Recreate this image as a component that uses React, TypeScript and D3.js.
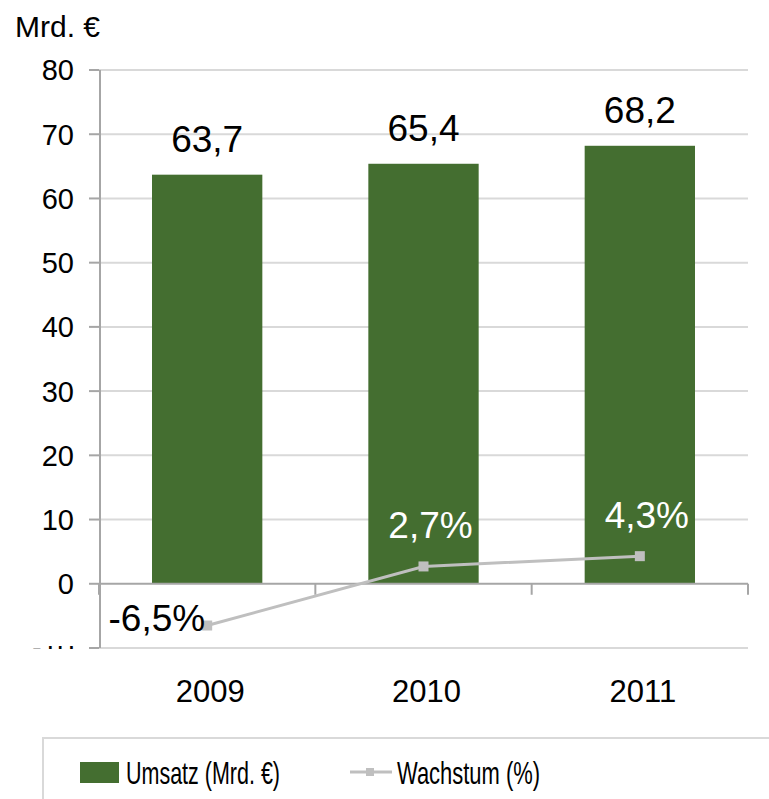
import React from "react";
import * as d3 from "d3";

const years = ["2009", "2010", "2011"];
const umsatz = [63.7, 65.4, 68.2];
const wachstum = [-6.5, 2.7, 4.3];
const yTicks = [-10, 0, 10, 20, 30, 40, 50, 60, 70, 80];

const W = 769;
const H = 799;
const GREEN = "#446E30";
const LINE = "#BFBFBF";
const GRID = "#D9D9D9";
const AXIS = "#A6A6A6";
const FONT = "'Liberation Sans', Arial, sans-serif";

const de = (v: number) => String(v).replace(".", ",");

export default function App() {
  const x = d3
    .scaleBand<string>()
    .domain(years)
    .range([99, 748])
    .paddingInner(0.49)
    .paddingOuter(0.245);
  const y = d3.scaleLinear().domain([-10, 80]).range([648, 70]);
  const step = x.step();
  const cx = (yr: string) => (x(yr) || 0) + x.bandwidth() / 2;

  const pts = years.map((yr, i) => [cx(yr), y(wachstum[i])] as [number, number]);
  const line = d3.line()(pts) || "";

  // growth label offsets (position relative to point)
  const growthLabel = (i: number) => {
    const [px, py] = pts[i];
    if (wachstum[i] < 0) return { x: px - 2, y: py + 5, anchor: "end", fill: "#000" };
    return { x: px + 7, y: py - 28, anchor: "middle", fill: "#fff" };
  };

  return (
    <svg
      width={W}
      height={H}
      style={{ position: "absolute", left: 0, top: 0, background: "#fff" }}
      fontFamily={FONT}
    >
      <defs>
        <clipPath id="cutTick">
          <rect x={0} y={646} width={99} height={3} />
        </clipPath>
      </defs>

      <text x={15} y={37} fontSize={30} fill="#000">
        Mrd. €
      </text>

      {/* gridlines */}
      {yTicks
        .filter((t) => t !== 0)
        .map((t) => (
          <line key={t} x1={99} x2={748} y1={y(t)} y2={y(t)} stroke={GRID} strokeWidth={2} />
        ))}

      {/* y tick marks */}
      {yTicks.map((t) => (
        <line key={"tk" + t} x1={89} x2={99} y1={y(t)} y2={y(t)} stroke={AXIS} strokeWidth={2} />
      ))}

      {/* y tick labels */}
      {yTicks.map((t) => (
        <text
          key={"tl" + t}
          x={74}
          y={y(t)}
          dy="0.36em"
          textAnchor="end"
          fontSize={29}
          fill="#000"
          clipPath={t === -10 ? "url(#cutTick)" : undefined}
        >
          {t}
        </text>
      ))}

      {/* bars */}
      {years.map((yr, i) => (
        <rect
          key={"b" + yr}
          x={x(yr)}
          y={y(umsatz[i])}
          width={x.bandwidth()}
          height={y(0) - y(umsatz[i])}
          fill={GREEN}
        />
      ))}

      {/* axes */}
      <line x1={100} x2={100} y1={y(80)} y2={y(-10)} stroke={AXIS} strokeWidth={2} />
      <line x1={99} x2={748} y1={y(0)} y2={y(0)} stroke={AXIS} strokeWidth={2} />
      {[0, 1, 2, 3].map((k) => (
        <line
          key={"xt" + k}
          x1={99 + k * step}
          x2={99 + k * step}
          y1={y(0)}
          y2={y(0) + 11}
          stroke={AXIS}
          strokeWidth={2}
        />
      ))}

      {/* bar labels */}
      {years.map((yr, i) => (
        <text
          key={"bl" + yr}
          x={cx(yr)}
          y={y(umsatz[i]) - 23}
          textAnchor="middle"
          fontSize={37}
          fill="#000"
        >
          {de(umsatz[i])}
        </text>
      ))}

      {/* growth line */}
      <path d={line} fill="none" stroke={LINE} strokeWidth={3} />
      {pts.map(([px, py], i) => (
        <rect key={"m" + i} x={px - 5} y={py - 5} width={10} height={10} fill={LINE} />
      ))}
      {years.map((yr, i) => {
        const l = growthLabel(i);
        return (
          <text
            key={"gl" + yr}
            x={l.x}
            y={l.y}
            textAnchor={l.anchor as any}
            fontSize={37}
            fill={l.fill}
          >
            {de(wachstum[i]) + "%"}
          </text>
        );
      })}

      {/* category labels */}
      {years.map((yr) => (
        <text key={"c" + yr} x={cx(yr) + 3} y={702} textAnchor="middle" fontSize={31} fill="#000">
          {yr}
        </text>
      ))}

      {/* legend */}
      <rect x={43} y={738} width={740} height={80} fill="none" stroke={GRID} strokeWidth={2} />
      <rect x={80} y={762} width={39} height={21} fill={GREEN} />
      <text
        x={126}
        y={784}
        fontSize={32}
        fill="#000"
        textLength={154}
        lengthAdjust="spacingAndGlyphs"
      >
        Umsatz (Mrd. €)
      </text>
      <line x1={350} x2={392} y1={772} y2={772} stroke={LINE} strokeWidth={3} />
      <rect x={366} y={768} width={8} height={8} fill={LINE} />
      <text
        x={397}
        y={784}
        fontSize={32}
        fill="#000"
        textLength={143}
        lengthAdjust="spacingAndGlyphs"
      >
        Wachstum (%)
      </text>
    </svg>
  );
}
